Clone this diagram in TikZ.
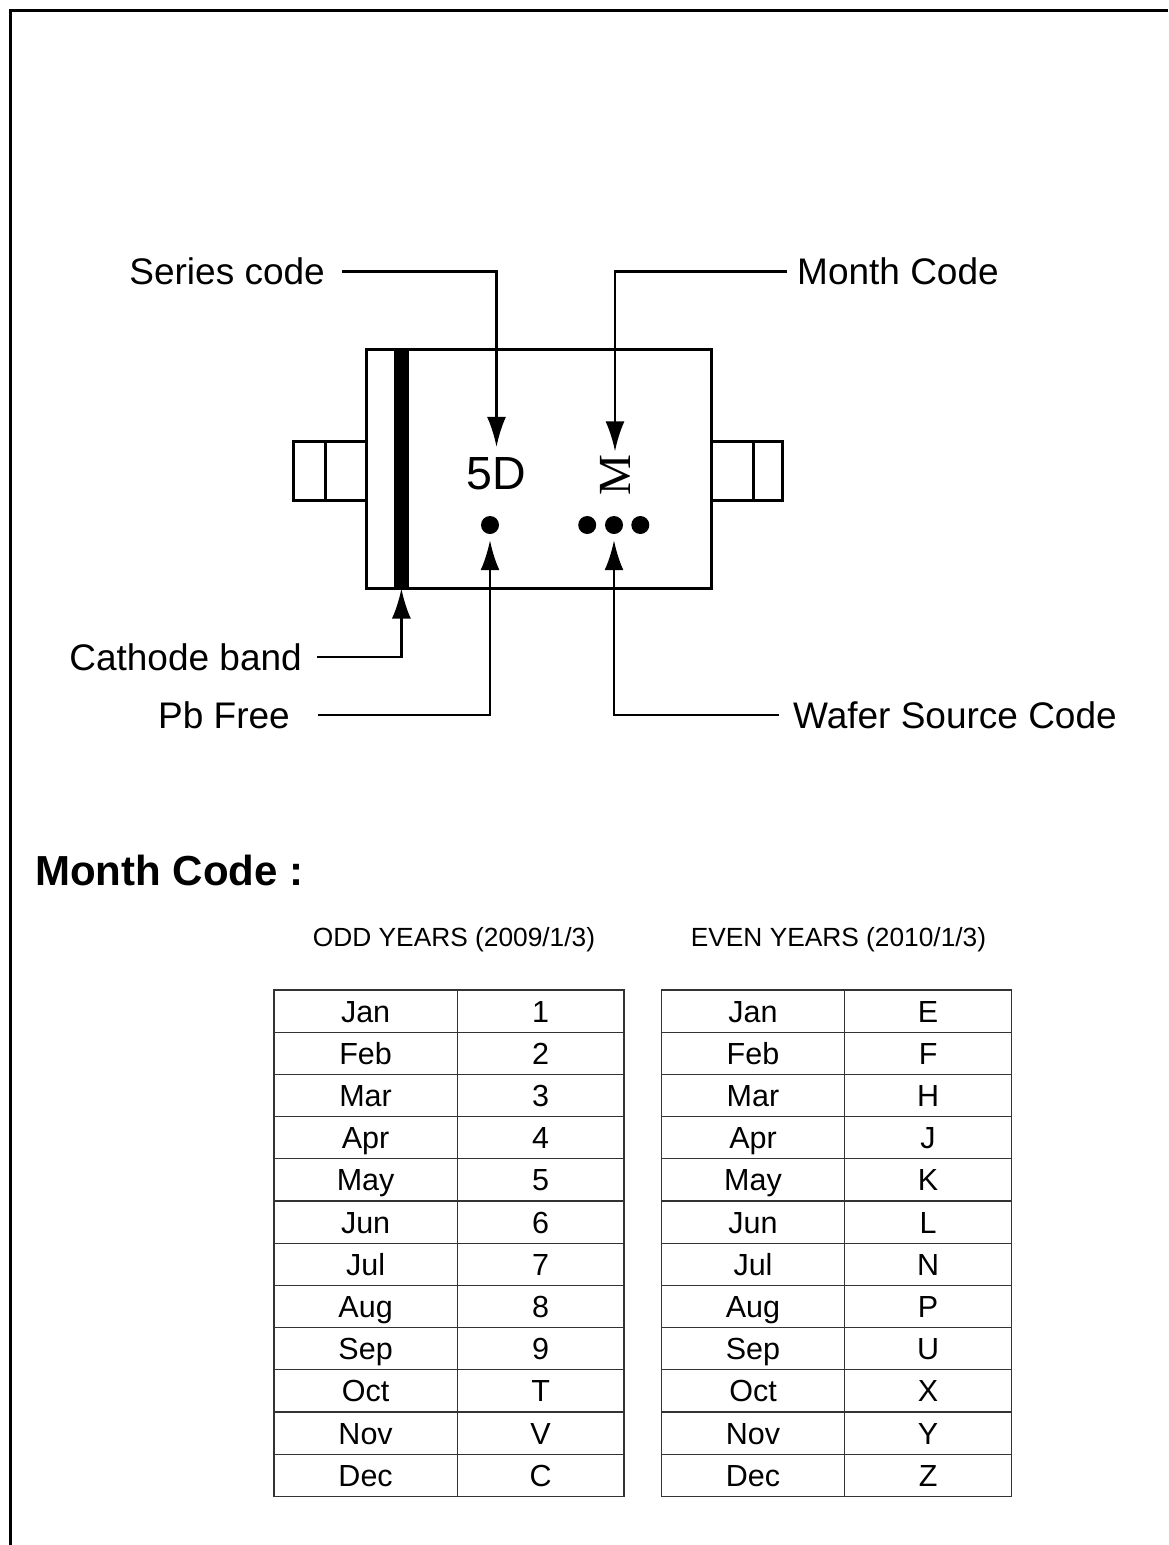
\documentclass[tikz,border=0pt]{standalone}
\usepackage{fontspec}
\setmainfont{Liberation Sans}
\newfontfamily\markserif{Liberation Serif}
\usetikzlibrary{arrows.meta}

\tikzset{
  pkg/.style={draw, line width=3pt, inner sep=0pt},
  lead/.style={line width=2.5pt, -{Latex[length=30pt,width=19pt]}},
  lbl/.style={inner sep=0pt, font=\fontsize{37}{44}\selectfont},
  dot/.style={circle, fill, inner sep=0pt, minimum size=18pt},
  cell/.style={inner sep=0pt, anchor=base, font=\fontsize{30.5}{36}\selectfont},
  tab/.style={line width=1.3pt, black!80},
}

\begin{document}
\begin{tikzpicture}[x=1pt,y=-1pt]
  \useasboundingbox (0,0) rectangle (1168,1545);
  \draw[line width=3pt] (10,1545) -- (10,10.5) -- (1168,10.5); % frame

  % leads
  \draw[line width=3pt] (366.7,441.6) -- (293.8,441.6) -- (293.8,500) -- (366.7,500); % left lead
  \draw[line width=3pt] (325,441.6) -- (325,500);
  \draw[line width=3pt] (711,441.6) -- (782.7,441.6) -- (782.7,500) -- (711,500); % right lead
  \draw[line width=3pt] (753.9,441.6) -- (753.9,500);

  % body and marking
  \node[pkg, minimum width=344.3pt, minimum height=239pt] (body) at (538.85,468.8) {};
  \node[fill, inner sep=0pt, minimum width=15.2pt, minimum height=239pt] (band) at (401.4,468.8) {};
  \node[inner sep=0pt, font=\fontsize{46.5}{50}\selectfont] (sd) at (496.5,473.3) {5D};
  \node[inner sep=0pt, rotate=90, font=\markserif\fontsize{46}{50}\selectfont] (mc) at (615,475) {M};
  \node[dot] (pb) at (490,525) {};
  \node[dot] (wf1) at (587.2,525) {};
  \node[dot] (wf2) at (614,525) {};
  \node[dot] (wf3) at (640.3,525) {};

  % labels
  \node[lbl, anchor=east] (series) at (325,271.6) {Series code};
  \node[lbl, anchor=west] (month) at (797,271.6) {Month Code};
  \node[lbl, anchor=east] (cath) at (302,657) {Cathode band};
  \node[lbl, anchor=east] (pbf) at (290,715) {Pb Free};
  \node[lbl, anchor=west] (wafer) at (793,715) {Wafer Source Code};

  \draw[lead] ([xshift=17pt]series.east) -| ([yshift=10pt]sd.north);
  \draw[lead] ([xshift=-10pt]month.west) -| ([yshift=3pt]mc.east);
  \draw[lead] ([xshift=15pt]cath.east) -| (band.south);
  \draw[lead] ([xshift=28pt]pbf.east) -| ([yshift=-6pt]pb.south);
  \draw[lead] ([xshift=-14pt]wafer.west) -| ([yshift=-6pt]wf2.south);

  % month code tables
  \node[anchor=west, inner sep=0pt, font=\bfseries\fontsize{42}{50}\selectfont] (mchead) at (35,870) {Month Code :};
  \node[inner sep=0pt, anchor=base, font=\fontsize{26.3}{30}\selectfont] (oddhead) at (454,946.4) {ODD YEARS (2009/1/3)};
  \node[inner sep=0pt, anchor=base, font=\fontsize{26.3}{30}\selectfont] (evenhead) at (838.5,946.4) {EVEN YEARS (2010/1/3)};

  \draw[tab] (274,990) rectangle (624,1496.4);
  \draw[tab] (457.3,990) -- (457.3,1496.4);
  \draw[tab] (661.4,990) rectangle (1011.5,1496.4);
  \draw[tab] (844.7,990) -- (844.7,1496.4);
  \foreach \i in {1,...,11} {
    \draw[tab] (274,{990+42.2*\i}) -- (624,{990+42.2*\i});
    \draw[tab] (661.4,{990+42.2*\i}) -- (1011.5,{990+42.2*\i});
  }
  \foreach \m/\o/\e [count=\i] in {Jan/1/E, Feb/2/F, Mar/3/H, Apr/4/J, May/5/K, Jun/6/L,
      Jul/7/N, Aug/8/P, Sep/9/U, Oct/T/X, Nov/V/Y, Dec/C/Z} {
    \node[cell] (om\i) at (365.6,{990+42.2*(\i-0.5)+10.9}) {\m};
    \node[cell] (ov\i) at (540.6,{990+42.2*(\i-0.5)+10.9}) {\o};
    \node[cell] (em\i) at (753,{990+42.2*(\i-0.5)+10.9}) {\m};
    \node[cell] (ev\i) at (928.1,{990+42.2*(\i-0.5)+10.9}) {\e};
  }
\end{tikzpicture}
\end{document}
